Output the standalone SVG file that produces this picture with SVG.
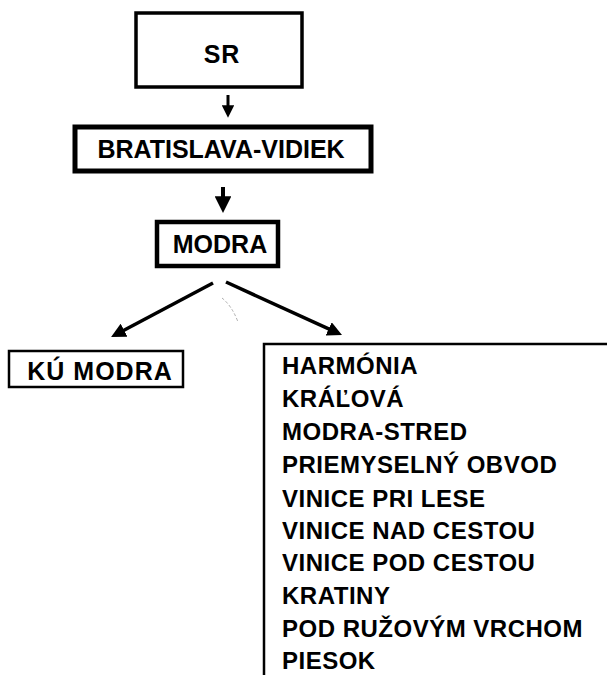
<svg xmlns="http://www.w3.org/2000/svg" width="607" height="675" viewBox="0 0 607 675">
<style>
text{font-family:"Liberation Sans",Arial,Helvetica,sans-serif;font-weight:bold;font-size:25px;fill:#000}
.c{text-anchor:middle}
.l{font-size:24px;letter-spacing:0.5px}
.box{fill:#fff;stroke:#000}
.conn{stroke:#000;fill:none;marker-end:url(#ah)}
</style>
<defs>
<marker id="ah" viewBox="0 0 10 10" refX="7" refY="5" markerWidth="4.2" markerHeight="4.2" markerUnits="strokeWidth" orient="auto">
<path d="M0,0 L10,5 L0,10 z" fill="#000"/>
</marker>
</defs>
<rect width="607" height="675" fill="#fff"/>
<g id="connectors">
<line class="conn" x1="228" y1="95" x2="228" y2="114" stroke-width="3"/>
<line class="conn" x1="223" y1="187" x2="223" y2="208" stroke-width="4"/>
<line class="conn" x1="213" y1="283" x2="115" y2="335" stroke-width="3.5"/>
<line class="conn" x1="226" y1="282" x2="338" y2="333.2" stroke-width="3.5"/>
<path d="M222,298 Q232,306 238,322" fill="none" stroke="#999" stroke-width="0.8" stroke-dasharray="3 2"/>
</g>
<g id="node-sr">
<rect class="box" x="136" y="13" width="166" height="74" stroke-width="3.5"/>
<text class="c" x="222" y="63" letter-spacing="1">SR</text>
</g>
<g id="node-bratislava">
<rect class="box" x="75" y="127" width="296" height="44" stroke-width="5"/>
<text class="c" x="221" y="158">BRATISLAVA-VIDIEK</text>
</g>
<g id="node-modra">
<rect class="box" x="157" y="222" width="121" height="44" stroke-width="4.5"/>
<text class="c" x="220" y="253">MODRA</text>
</g>
<g id="node-ku-modra">
<rect class="box" x="9" y="351" width="174" height="36" stroke-width="2.5"/>
<text class="c" x="100" y="380" letter-spacing="1">KÚ MODRA</text>
</g>
<g id="node-list">
<path d="M264,675 L264,344 L607,344" fill="none" stroke="#000" stroke-width="2.5"/>
<text class="l" x="282" y="374">HARMÓNIA</text>
<text class="l" x="282" y="407">KRÁĽOVÁ</text>
<text class="l" x="282" y="440">MODRA-STRED</text>
<text class="l" x="282" y="473">PRIEMYSELNÝ OBVOD</text>
<text class="l" x="282" y="507">VINICE PRI LESE</text>
<text class="l" x="282" y="539">VINICE NAD CESTOU</text>
<text class="l" x="282" y="571">VINICE POD CESTOU</text>
<text class="l" x="282" y="604">KRATINY</text>
<text class="l" x="282" y="637">POD RUŽOVÝM VRCHOM</text>
<text class="l" x="282" y="669">PIESOK</text>
</g>
</svg>
